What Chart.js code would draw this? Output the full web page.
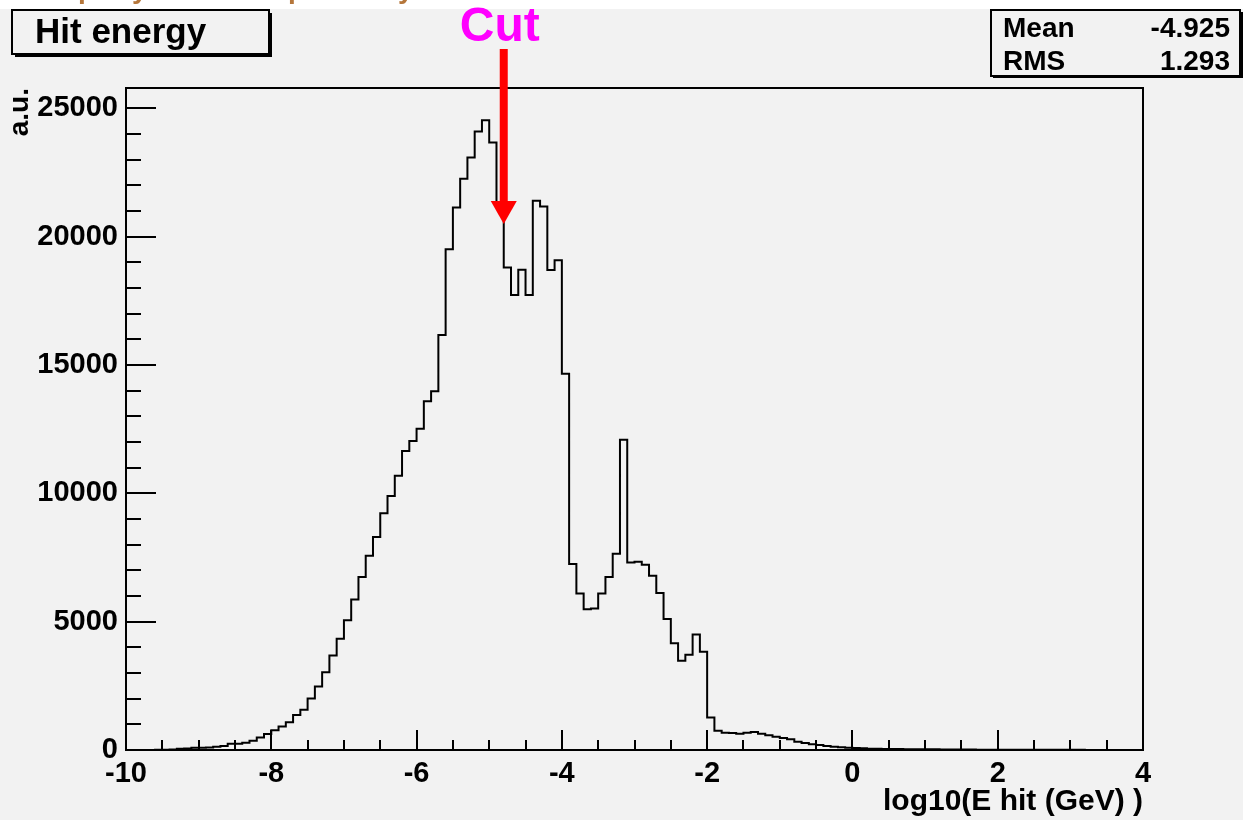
<!DOCTYPE html>
<html>
<head>
<meta charset="utf-8">
<script src="https://cdn.jsdelivr.net/npm/chart.js@4.4.1/dist/chart.umd.min.js"></script>
<style>
  html, body { margin: 0; padding: 0; background: #f2f2f2; }
  #wrap { width: 1243px; height: 820px; position: relative; }
  canvas { display: block; }
</style>
</head>
<body>
<div id="wrap"><canvas id="c" width="1243" height="820"></canvas></div>
<script>
// ---- data ----
const histTitle = 'Hit energy';
const xAxisTitle = 'log10(E hit (GeV) )';
const yAxisTitle = 'a.u.';
const xMin = -10;
const xMax = 4;
const binWidth = 0.1;
const binValues = [
  0, 0, 0, 5, 10, 20, 45, 55, 85, 90,
  100, 130, 160, 240, 245, 285, 360, 490, 620, 770,
  915, 1080, 1360, 1570, 2010, 2470, 3030, 3680, 4330, 5050,
  5860, 6740, 7570, 8300, 9220, 9900, 10680, 11650, 12040, 12520,
  13590, 13980, 16170, 19510, 21135, 22250, 23080, 24100, 24530, 23670,
  21200, 18800, 17730, 18710, 17730, 21400, 21170, 18700, 19080, 14660,
  7250, 6100, 5480, 5510, 6100, 6740, 7650, 12090, 7300, 7330,
  7220, 6790, 6120, 5100, 4160, 3480, 3715, 4500, 3830, 1265,
  753, 670, 660, 636, 675, 700, 636, 572, 520, 468,
  416, 325, 273, 221, 195, 156, 130, 104, 91, 78,
  65, 52, 52, 39, 39, 39, 26, 26, 26, 26,
  26, 15, 15, 15, 15, 15, 10, 10, 10, 10,
  10, 5, 5, 5, 5, 5, 5, 5, 5, 5,
  5, 0, 0, 0, 0, 0, 0, 0, 0, 0
];
const xMajorTicks = [-10, -8, -6, -4, -2, 0, 2, 4];
const xMinorStep = 0.5;
const yMajorTicks = [0, 5000, 10000, 15000, 20000, 25000];
const yMinorStep = 1000;
const yMax = 25790;
const statNames = ['Mean', 'RMS'];
const statValues = ['-4.925', '1.293'];
const cutValue = -4.8;
const cutLabel = 'Cut';

// ---- build step points from bins (low edge of each bin, then the upper edge) ----
const points = [{ x: xMin, y: 0 }];
binValues.forEach((v, i) => points.push({ x: xMin + (i + 1) * binWidth, y: v }));

const FONT = '"Liberation Sans", Arial, Helvetica, sans-serif';

const decorPlugin = {
  id: 'decor',
  beforeDraw(chart) {
    const ctx = chart.ctx;
    ctx.save();
    ctx.fillStyle = '#f2f2f2';
    ctx.fillRect(0, 0, chart.width, chart.height);
    // white strip at top with partially hidden brown title
    ctx.fillStyle = '#ffffff';
    ctx.fillRect(0, 0, chart.width, 9);
    ctx.beginPath();
    ctx.rect(0, 0, chart.width, 8);
    ctx.clip();
    ctx.fillStyle = '#b5763a';
    ctx.font = 'bold 28px ' + FONT;
    ctx.textBaseline = 'alphabetic';
    ctx.fillText('p', 78, -2);
    ctx.fillText('y', 132, -2);
    ctx.fillText('p', 288, -2);
    ctx.fillText('y', 398, -2);
    ctx.restore();
  },
  afterDraw(chart) {
    const ctx = chart.ctx;
    const a = chart.chartArea;
    const xs = chart.scales.x, ys = chart.scales.y;
    ctx.save();
    // frame
    ctx.strokeStyle = '#000';
    ctx.lineWidth = 2;
    ctx.strokeRect(a.left, a.top, a.right - a.left, a.bottom - a.top);
    // x ticks (inside)
    ctx.beginPath();
    for (let v = xMin; v <= xMax + 1e-9; v += xMinorStep) {
      const px = Math.round(xs.getPixelForValue(v));
      const major = xMajorTicks.some(t => Math.abs(t - v) < 1e-6);
      const len = major ? 20 : 10;
      ctx.moveTo(px, a.bottom);
      ctx.lineTo(px, a.bottom - len);
    }
    // y ticks (inside)
    for (let v = 0; v <= yMax; v += yMinorStep) {
      const py = Math.round(ys.getPixelForValue(v));
      const major = yMajorTicks.includes(v);
      const len = major ? 30 : 15;
      ctx.moveTo(a.left, py);
      ctx.lineTo(a.left + len, py);
    }
    ctx.stroke();

    // title box "Hit energy"
    ctx.fillStyle = '#000';
    ctx.fillRect(15, 13, 257, 44);
    ctx.fillStyle = '#f2f2f2';
    ctx.fillRect(12, 10, 257, 44);
    ctx.strokeStyle = '#000';
    ctx.lineWidth = 2;
    ctx.strokeRect(12, 10, 257, 44);
    ctx.fillStyle = '#000';
    ctx.font = 'bold 35px ' + FONT;
    ctx.textBaseline = 'alphabetic';
    ctx.textAlign = 'left';
    ctx.fillText(histTitle, 35, 43);

    // stats box
    ctx.fillStyle = '#000';
    ctx.fillRect(993, 12, 250, 66);
    ctx.fillStyle = '#f2f2f2';
    ctx.fillRect(991, 10, 249, 66);
    ctx.strokeRect(991, 10, 249, 66);
    ctx.fillStyle = '#000';
    ctx.font = 'bold 28px ' + FONT;
    const rowBase = [37, 70];
    statNames.forEach((n, i) => {
      ctx.textAlign = 'left';
      ctx.fillText(n, 1003, rowBase[i]);
      ctx.textAlign = 'right';
      ctx.fillText(statValues[i], 1230, rowBase[i]);
    });

    // cut arrow
    const cx = xs.getPixelForValue(cutValue);
    ctx.fillStyle = '#ff0000';
    ctx.fillRect(cx - 4, 49, 8, 153);
    ctx.beginPath();
    ctx.moveTo(cx - 13, 201);
    ctx.lineTo(cx + 13, 201);
    ctx.lineTo(cx, 224);
    ctx.closePath();
    ctx.fill();
    ctx.fillStyle = '#ff00ff';
    ctx.font = 'bold 48px ' + FONT;
    ctx.textAlign = 'center';
    ctx.fillText(cutLabel, cx - 4, 41);
    ctx.restore();
  }
};

new Chart(document.getElementById('c'), {
  type: 'line',
  data: {
    datasets: [{
      data: points,
      stepped: 'before',
      borderColor: '#000',
      borderWidth: 2,
      pointRadius: 0,
      fill: false,
      tension: 0
    }]
  },
  options: {
    responsive: false,
    animation: false,
    events: [],
    layout: { padding: { left: 0, top: 88, right: 100, bottom: 0 } },
    plugins: { legend: { display: false }, tooltip: { enabled: false } },
    scales: {
      x: {
        type: 'linear',
        min: xMin,
        max: xMax,
        afterBuildTicks(scale) { scale.ticks = xMajorTicks.map(v => ({ value: v })); },
        afterFit(scale) { scale.height = 70; },
        grid: { display: false, drawTicks: false },
        border: { display: false },
        ticks: {
          color: '#000',
          padding: 7,
          maxRotation: 0,
          autoSkip: false,
          font: { family: FONT, size: 29, weight: 'bold' },
          callback: v => String(v)
        },
        title: {
          display: true,
          text: xAxisTitle,
          align: 'end',
          color: '#000',
          padding: { top: 0, bottom: 0 },
          font: { family: FONT, size: 30, weight: 'bold' }
        }
      },
      y: {
        type: 'linear',
        min: 0,
        max: yMax,
        afterBuildTicks(scale) { scale.ticks = yMajorTicks.map(v => ({ value: v })); },
        afterFit(scale) { scale.width = 126; },
        grid: { display: false, drawTicks: false },
        border: { display: false },
        ticks: {
          color: '#000',
          padding: 8,
          autoSkip: false,
          font: { family: FONT, size: 29, weight: 'bold' },
          callback: v => String(v)
        },
        title: {
          display: true,
          text: yAxisTitle,
          align: 'end',
          color: '#000',
          padding: { top: 3, bottom: 0 },
          font: { family: FONT, size: 28, weight: 'bold' }
        }
      }
    }
  },
  plugins: [decorPlugin]
});
</script>
</body>
</html>
